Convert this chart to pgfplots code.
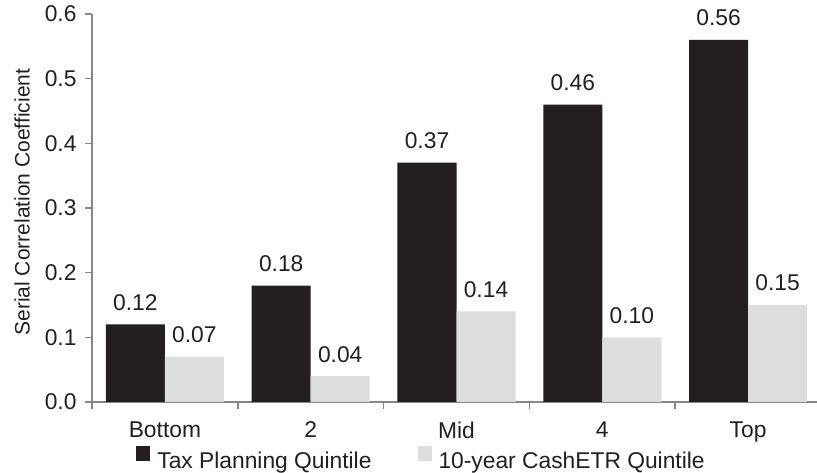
\documentclass[border=0pt]{standalone}
\usepackage{pgfplots}
\pgfplotsset{compat=1.18}
\usepackage{fontspec}
\setmainfont{Liberation Sans}

\definecolor{barDark}{HTML}{231F20}
\definecolor{barLight}{HTML}{DCDDDE}
\definecolor{axisGray}{HTML}{878787}
\definecolor{txt}{HTML}{231F20}

\begin{document}
\begin{tikzpicture}
\begin{axis}[
  scale only axis,
  width=729pt, height=388pt,
  xmin=-0.5, xmax=4.5,
  ymin=0, ymax=0.6,
  font=\fontsize{22.8}{27}\selectfont,
  text=txt,
  /pgf/number format/assume math mode=true,
  axis x line*=bottom, axis y line*=left,
  axis line style={draw=axisGray, line width=1.5pt, -},
  tick style={draw=axisGray, line width=1.5pt},
  tick align=outside,
  major tick length=7pt,
  ytick={0,0.1,...,0.6},
  yticklabel style={/pgf/number format/fixed, /pgf/number format/fixed zerofill,
    /pgf/number format/precision=1, xshift=-5pt},
  xtick={-0.5,0.5,1.5,2.5,3.5,4.5},
  xticklabels={Bottom,2,Mid,4,Top},
  x tick label as interval=true,
  xticklabel style={yshift=-9pt},
  ylabel={Serial Correlation Coefficient},
  every axis y label/.style={at={(axis description cs:-0.096,0.515)}, rotate=90, anchor=center,
    font=\fontsize{21}{25}\selectfont},
  ybar=0pt,
  bar width=59pt,
  nodes near coords={\pgfmathprintnumber[fixed, fixed zerofill, precision=2]{\pgfplotspointmeta}},
  every node near coord/.append style={anchor=base, yshift=14pt, inner sep=0pt, text=txt},
  legend style={at={(axis description cs:0.452,-0.147)}, anchor=center, draw=none, fill=none,
    legend columns=2, font=\fontsize{22.8}{27}\selectfont, text=txt,
    /tikz/every odd column/.append style={column sep=5pt},
    /tikz/every even column/.append style={column sep=44pt},
    legend cell align=left},
  legend image code/.code={\fill[#1] (0pt,0pt) rectangle (14pt,15pt);},
]
\addplot[fill=barDark, draw=none] coordinates {(0,0.12) (1,0.18) (2,0.37) (3,0.46) (4,0.56)};
\addplot[fill=barLight, draw=none] coordinates {(0,0.07) (1,0.04) (2,0.14) (3,0.10) (4,0.15)};
\legend{Tax Planning Quintile, 10-year CashETR Quintile}
\coordinate (O) at (rel axis cs:0,0);
\end{axis}
\pgfresetboundingbox
\path[use as bounding box] ([shift={(-92pt,-71pt)}]O) rectangle ++(817pt,473pt);
\end{tikzpicture}
\end{document}
